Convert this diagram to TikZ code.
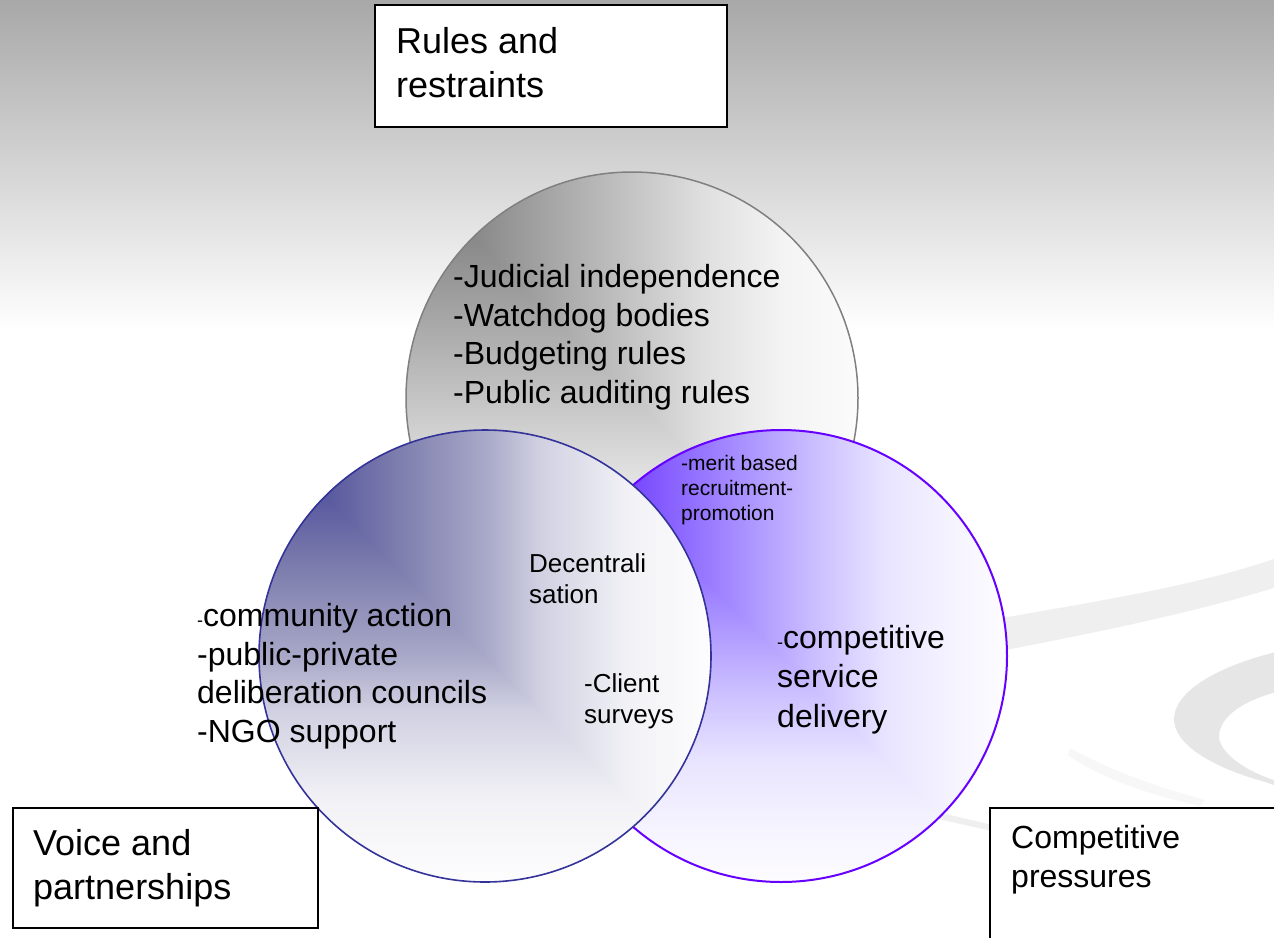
\documentclass[tikz,border=0pt]{standalone}
\usepackage{fontspec}
\setmainfont{Liberation Sans}
\definecolor{bgtop}{HTML}{A8A8A8}
\definecolor{swoosh}{HTML}{EFEFEF}
\definecolor{crescent}{HTML}{E6E6E6}
\definecolor{tail}{HTML}{F7F7F7}
\definecolor{g0}{HTML}{7A7A7A}
\definecolor{g1}{HTML}{888888}
\definecolor{g2}{HTML}{A8A8A8}
\definecolor{g3}{HTML}{C4C4C4}
\definecolor{g4}{HTML}{E0E0E0}
\definecolor{g5}{HTML}{F4F4F4}
\definecolor{g6}{HTML}{FBFBFB}
\definecolor{b0}{HTML}{50509A}
\definecolor{b1}{HTML}{5A5AA0}
\definecolor{b2}{HTML}{7E7EAE}
\definecolor{b3}{HTML}{A8A8C8}
\definecolor{b4}{HTML}{D0D0E2}
\definecolor{b5}{HTML}{F2F2F6}
\definecolor{b6}{HTML}{FDFDFE}
\definecolor{p0}{HTML}{6A2CFF}
\definecolor{p1}{HTML}{7B4DFF}
\definecolor{p2}{HTML}{A58CFF}
\definecolor{p3}{HTML}{CBBFFF}
\definecolor{p4}{HTML}{E8E4FF}
\definecolor{p5}{HTML}{F6F4FF}
\definecolor{p6}{HTML}{FDFCFF}
\definecolor{topline}{HTML}{808080}
\definecolor{leftline}{HTML}{333399}
\definecolor{rightline}{HTML}{6600FF}
\pgfdeclarehorizontalshading{grayramp}{100bp}{color(0bp)=(g0); color(25bp)=(g0); color(32.3bp)=(g1); color(41.6bp)=(g2); color(50bp)=(g3); color(58.2bp)=(g4); color(67bp)=(g5); color(75bp)=(g6); color(100bp)=(g6)}
\pgfdeclarehorizontalshading{blueramp}{100bp}{color(0bp)=(b0); color(25bp)=(b0); color(32.7bp)=(b1); color(40.5bp)=(b2); color(50bp)=(b3); color(56bp)=(b4); color(66bp)=(b5); color(75bp)=(b6); color(100bp)=(b6)}
\pgfdeclarehorizontalshading{purpleramp}{100bp}{color(0bp)=(p0); color(25bp)=(p0); color(34.4bp)=(p1); color(44.9bp)=(p2); color(53.8bp)=(p3); color(61.5bp)=(p4); color(69.2bp)=(p5); color(75bp)=(p6); color(100bp)=(p6)}
% corner gradient disc: centre x, centre y, radius, shading
\newcommand{\cornerdisc}[4]{%
  \begin{scope}
    \clip (#1,#2) circle[radius=#3pt];
    \shade[shading=#4] (#1-#3,#2-#3) rectangle (#1+#3,#2+#3);
    \begin{scope}
      \clip (#1-#3,#2-#3) -- (#1-#3,#2+#3) -- (#1+#3,#2+#3) -- cycle;
      \shade[shading=#4, shading angle=-90] (#1-#3,#2-#3) rectangle (#1+#3,#2+#3);
    \end{scope}
  \end{scope}}
\begin{document}
\begin{tikzpicture}[x=1pt,y=-1pt,
  txtA/.style={inner sep=0pt, anchor=base west, align=left, font=\fontsize{32}{38.4}\selectfont},
  txtB/.style={inner sep=0pt, anchor=base west, align=left, font=\fontsize{26}{31}\selectfont},
  txtC/.style={inner sep=0pt, anchor=base west, align=left, font=\fontsize{21}{25}\selectfont},
  txtD/.style={inner sep=0pt, anchor=base west, align=left, font=\fontsize{36}{44}\selectfont},
  labelbox/.style={draw=black, fill=white, line width=2pt, inner sep=0pt, anchor=north west}]
\useasboundingbox (0,0) rectangle (1274,937);
\clip (0,0) rectangle (1274,937);
% background
\fill[white] (0,0) rectangle (1274,937);
\shade[top color=bgtop, bottom color=white] (0,0) rectangle (1274,330);
% background swoosh
\fill[swoosh] (990,620) .. controls (1100,601) and (1200,585) .. (1280,557) -- (1280,586) .. controls (1200,611) and (1100,632) .. (990,653) -- cycle;
\fill[tail] (1070,748) .. controls (1110,770) and (1150,785) .. (1205,800) -- (1200,806) .. controls (1150,795) and (1100,778) .. (1068,755) -- cycle;
\fill[crescent] (1280,651) .. controls (1225,664) and (1176,688) .. (1174,718) .. controls (1173,745) and (1215,768) .. (1262,781) -- (1280,787) -- (1280,782) .. controls (1240,770) and (1218,750) .. (1219,735) .. controls (1221,715) and (1245,700) .. (1280,691) -- cycle;
\fill[swoosh] (925,809) -- (992,825) -- (992,831) -- (925,816) -- cycle;
% circle centres
\coordinate (ctop) at (632,398);
\coordinate (cright) at (781,656);
\coordinate (cleft) at (485,656);
% top circle
\cornerdisc{632}{398}{226}{grayramp}
\draw[topline, line width=1.5pt] (ctop) circle[radius=226pt];
% right circle
\cornerdisc{781}{656}{226}{purpleramp}
\draw[rightline, line width=2pt] (cright) circle[radius=226pt];
% left circle
\cornerdisc{485}{656}{226}{blueramp}
\draw[leftline, line width=1.6pt] (cleft) circle[radius=226pt];
% circle texts (anchored at the baseline of their last line)
\node[txtA] (rules) at (453,403) {-Judicial independence\\-Watchdog bodies\\-Budgeting rules\\-Public auditing rules};
\node[txtC] (merit) at (681,520) {-merit based\\recruitment-\\promotion};
\node[txtB] (decent) at (529,603) {Decentrali\\sation};
\node[txtA] (voicelist) at (197,742) {{\fontsize{18}{18}\selectfont -}community action\\-public-private\\deliberation councils\\-NGO support};
\node[txtB] (client) at (584,723) {-Client\\surveys};
\node[txtA, font=\fontsize{32}{39.5}\selectfont] (complist) at (777,727) {{\fontsize{18}{18}\selectfont -}competitive\\service\\delivery};
% label boxes
\node[labelbox, minimum width=352pt, minimum height=122pt] (rulesbox) at (374,4) {};
\node[txtD] (rulestitle) at (396,97) {Rules and\\restraints};
\node[labelbox, minimum width=305pt, minimum height=120pt] (voicebox) at (12,807) {};
\node[txtD] (voicetitle) at (33,899) {Voice and\\partnerships};
\node[labelbox, minimum width=330pt, minimum height=170pt] (compbox) at (989,807) {};
\node[txtA, font=\fontsize{32}{39}\selectfont] (comptitle) at (1011,887) {Competitive\\pressures};
\end{tikzpicture}
\end{document}
